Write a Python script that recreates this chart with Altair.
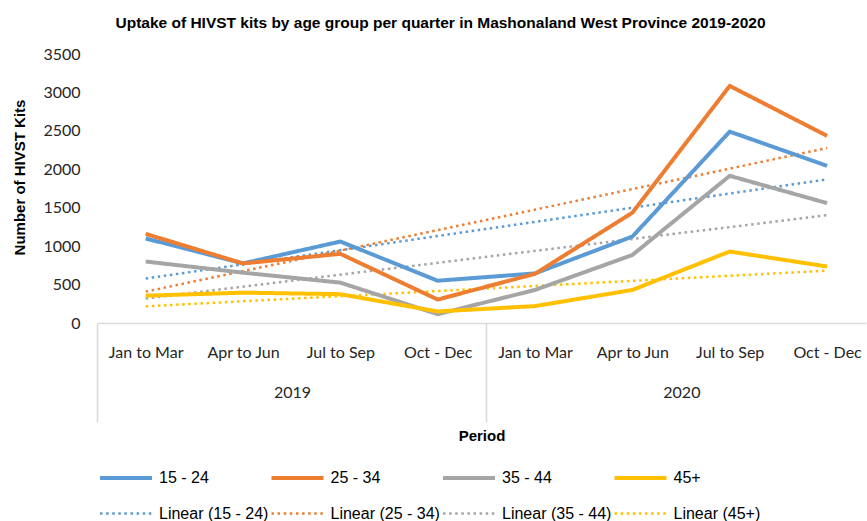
import json
import altair as alt
import pandas as pd

# ---- data ----
quarters = ["Jan to Mar", "Apr to Jun", "Jul to Sep", "Oct - Dec"]
years = ["2019", "2020"]
series_names = ["15 - 24", "25 - 34", "35 - 44", "45+"]
trend_names = ["Linear (15 - 24)", "Linear (25 - 34)", "Linear (35 - 44)", "Linear (45+)"]
v_15_24 = [1100, 775, 1060, 550, 645, 1125, 2490, 2045]
v_25_34 = [1160, 775, 900, 305, 640, 1435, 3085, 2435]
v_35_44 = [800, 655, 525, 115, 430, 885, 1915, 1560]
v_45_plus = [355, 395, 375, 150, 220, 430, 930, 735]
y_ticks = [0, 500, 1000, 1500, 2000, 2500, 3000, 3500]
colors = ["#5B9BD5", "#ED7D31", "#A5A5A5", "#FFC000"]

periods = [q for _ in years for q in quarters]
rows = []
for name, vals in zip(series_names, [v_15_24, v_25_34, v_35_44, v_45_plus]):
    for i, v in enumerate(vals):
        rows.append({"idx": i + 1, "period": periods[i], "series": name, "value": v})
df = pd.DataFrame(rows)

domain_all = series_names + trend_names
color_scale = alt.Scale(domain=domain_all, range=colors * 2)
dash_scale = alt.Scale(domain=domain_all, range=[[1, 0]] * 4 + [[2.5, 3.6]] * 4)
width_scale = alt.Scale(type="ordinal", domain=domain_all, range=[4] * 4 + [2.5] * 4)
x_scale = alt.Scale(domain=[0.5, 8.4], nice=False, zero=False)
y_scale = alt.Scale(domain=[0, 3500], nice=False)

legend = alt.Legend(
    title=None, orient="none", legendX=1, legendY=416, columns=4,
    direction="horizontal",
    symbolType="stroke", symbolSize=2704,
    clipHeight=16, labelFont="Liberation Sans", labelFontSize=16,
    labelColor="#000000", labelOffset=5, columnPadding=0.5, rowPadding=19.6,
    gridAlign="all", labelLimit=300,
)

y_axis = alt.Axis(
    values=y_ticks, format="d", ticks=False, domain=False, grid=False, labelFlush=False,
    labelFont="Lato", labelFontSize=16, labelColor="#262626", labelPadding=17,
    title="Number of HIVST Kits", titleFont="Liberation Sans", titleFontSize=15,
    titleFontWeight="bold", titleColor="#000000", titleX=-78, titleY=123,
    titleAngle=270, titleAlign="center", titleBaseline="middle",
)

quarter_expr = json.dumps(periods) + "[datum.value - 1]"
quarter_axis = alt.Axis(
    orient="bottom", values=list(range(1, 9)), labelExpr=quarter_expr,
    ticks=False, tickSize=0, grid=False, domain=True, domainColor="#d9d9d9",
    domainWidth=1.5, labelFont="Lato", labelFontSize=16, labelColor="#262626",
    labelBaseline="middle", labelPadding=29, labelFlush=False,
    labelOverlap=False, labelBound=False, title=None,
)

year_expr = "datum.value < 4 ? '%s' : '%s'" % (years[0], years[1])
year_axis = alt.Axis(
    orient="bottom", values=[0.5, 4.5], labelExpr=year_expr, labelOffset=195,
    ticks=True, tickSize=99, tickColor="#d9d9d9", tickWidth=1.5, grid=False,
    domain=False, labelFont="Lato", labelFontSize=16, labelColor="#262626",
    labelBaseline="middle", labelPadding=-30, labelFlush=False,
    labelOverlap=False, labelBound=False,
    title="Period", titleFont="Liberation Sans", titleFontSize=15,
    titleFontWeight="bold", titleColor="#000000", titleY=112,
    titleBaseline="middle",
)

trend = (
    alt.Chart(df)
    .transform_regression("idx", "value", groupby=["series"])
    .transform_calculate(label="'Linear (' + datum.series + ')'")
    .mark_line()
    .encode(
        x=alt.X("idx:Q", scale=x_scale, axis=year_axis),
        y=alt.Y("value:Q", scale=y_scale, axis=y_axis),
        color=alt.Color("label:N", scale=color_scale, legend=legend),
        strokeDash=alt.StrokeDash("label:N", scale=dash_scale, legend=legend),
        strokeWidth=alt.StrokeWidth("label:N", scale=width_scale, legend=legend),
    )
)

lines = (
    alt.Chart(df)
    .mark_line(strokeJoin="round")
    .encode(
        x=alt.X("idx:Q", scale=x_scale, axis=quarter_axis),
        y=alt.Y("value:Q", scale=y_scale, axis=y_axis),
        color=alt.Color("series:N", scale=color_scale, legend=legend),
        strokeDash=alt.StrokeDash("series:N", scale=dash_scale, legend=legend),
        strokeWidth=alt.StrokeWidth("series:N", scale=width_scale, legend=legend),
    )
)

chart = (
    alt.layer(trend, lines)
    .resolve_axis(x="independent")
    .properties(
        width=769, height=269, autosize="none",
        padding={"left": 97, "top": 54, "right": 1, "bottom": 198},
        title=alt.TitleParams(
            text="Uptake of HIVST kits by age group per quarter in Mashonaland West Province 2019-2020",
            font="Liberation Sans", fontSize=15.5, fontWeight="bold", color="#000000",
            anchor="middle", frame="group", dx=-41, offset=15,
        ),
        background="#ffffff",
    )
    .configure_view(stroke=None)
)

chart.save("out.html", embed_options={"renderer": "svg", "actions": False})
